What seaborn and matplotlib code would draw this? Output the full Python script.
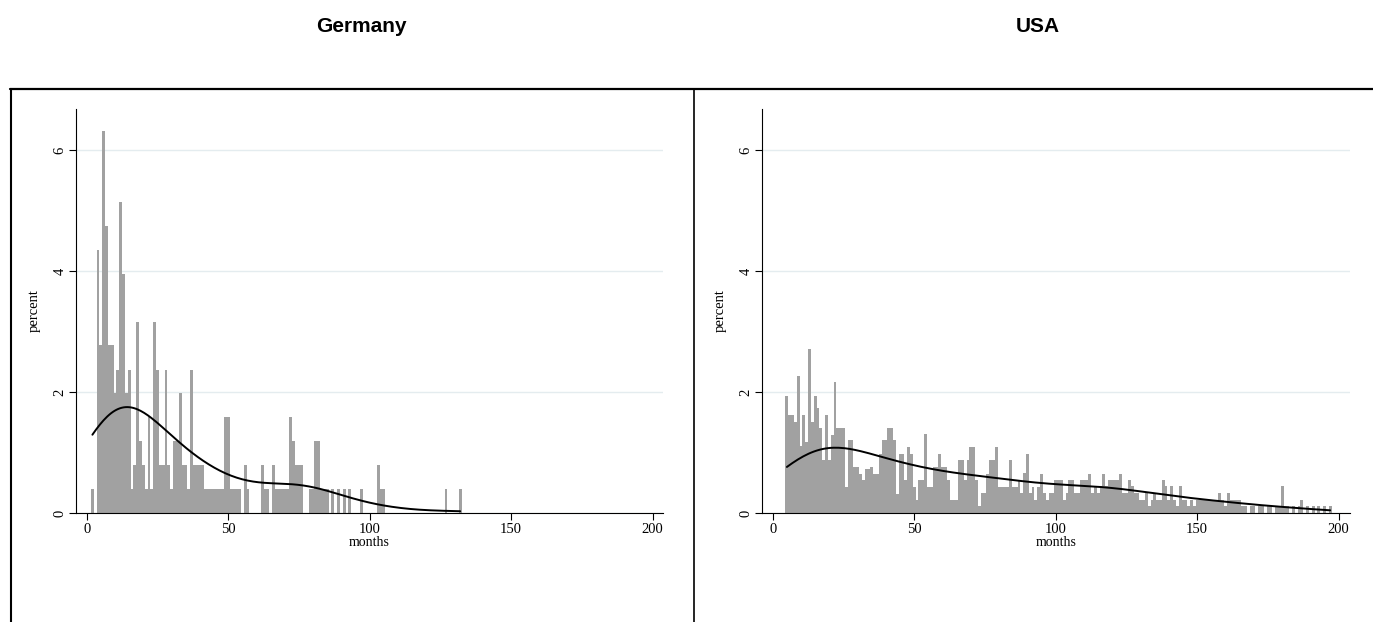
import numpy as np
import pandas as pd
import matplotlib
matplotlib.use("Agg")
import matplotlib.pyplot as plt
import seaborn as sns
from matplotlib.lines import Line2D

# ---------------- data ----------------
panel_titles = ["Germany", "USA"]
x_label = "months"
y_label = "percent"
x_ticks = [0, 50, 100, 150, 200]
y_ticks = [0, 2, 4, 6]

germany_months = [2, 4, 5, 6, 7, 8, 9, 10, 11, 12, 13, 14, 15, 16, 17, 18, 19, 20,
                  21, 22, 23, 24, 25, 26, 27, 28, 29, 30, 31, 32, 33, 34, 35, 36, 37,
                  38, 39, 40, 41, 42, 43, 44, 45, 46, 47, 48, 49, 50, 51, 52, 53, 54,
                  56, 57, 62, 63, 64, 66, 67, 68, 69, 70, 71, 72, 73, 74, 75, 76,
                  79, 80, 81, 82, 83, 84, 85, 87, 89, 91, 93, 97, 103, 104, 105,
                  127, 132]
germany_percent = [0.40, 4.35, 2.77, 6.32, 4.74, 2.77, 2.77, 1.98, 2.37, 5.14, 3.95,
                   1.98, 2.37, 0.40, 0.79, 3.16, 1.19, 0.79, 0.40, 1.58, 0.40, 3.16,
                   2.37, 0.79, 0.79, 2.37, 0.79, 0.40, 1.19, 1.19, 1.98, 0.79, 0.79,
                   0.40, 2.37, 0.79, 0.79, 0.79, 0.79, 0.40, 0.40, 0.40, 0.40, 0.40,
                   0.40, 0.40, 1.58, 1.58, 0.40, 0.40, 0.40, 0.40, 0.79, 0.40, 0.79,
                   0.40, 0.40, 0.79, 0.40, 0.40, 0.40, 0.40, 0.40, 1.58, 1.19, 0.79,
                   0.79, 0.79, 0.40, 0.40, 1.19, 1.19, 0.40, 0.40, 0.40, 0.40, 0.40,
                   0.40, 0.40, 0.40, 0.79, 0.40, 0.40, 0.40, 0.40]

usa_first_month = 5
usa_last_month = 197
usa_percent = [
    1.94, 1.62, 1.62, 1.50, 2.27, 1.10, 1.62, 1.18, 2.71, 1.50,   # 5-14
    1.94, 1.73, 1.40, 0.88, 1.62, 0.88, 1.29, 2.16, 1.40, 1.40,   # 15-24
    1.40, 0.43, 1.20, 1.20, 0.76, 0.76, 0.64, 0.55, 0.72, 0.72,   # 25-34
    0.76, 0.64, 0.64, 0.98, 1.20, 1.20, 1.40, 1.40, 1.20, 0.32,   # 35-44
    0.98, 0.98, 0.55, 1.09, 0.98, 0.43, 0.22, 0.55, 0.55, 1.31,   # 45-54
    0.43, 0.43, 0.76, 0.76, 0.98, 0.76, 0.76, 0.55, 0.22, 0.22,   # 55-64
    0.22, 0.87, 0.87, 0.55, 0.87, 1.09, 1.09, 0.55, 0.11, 0.33,   # 65-74
    0.33, 0.64, 0.87, 0.87, 1.09, 0.43, 0.43, 0.43, 0.43, 0.88,   # 75-84
    0.43, 0.43, 0.55, 0.33, 0.66, 0.98, 0.33, 0.43, 0.22, 0.43,   # 85-94
    0.65, 0.33, 0.22, 0.33, 0.33, 0.55, 0.55, 0.55, 0.22, 0.33,   # 95-104
    0.55, 0.55, 0.33, 0.33, 0.55, 0.55, 0.55, 0.65, 0.33, 0.44,   # 105-114
    0.33, 0.44, 0.65, 0.44, 0.55, 0.55, 0.55, 0.55, 0.65, 0.33,   # 115-124
    0.33, 0.55, 0.44, 0.33, 0.33, 0.22, 0.22, 0.33, 0.11, 0.22,   # 125-134
    0.33, 0.22, 0.22, 0.55, 0.44, 0.22, 0.44, 0.22, 0.11, 0.44,   # 135-144
    0.22, 0.22, 0.11, 0.22, 0.11, 0.22, 0.22, 0.22, 0.22, 0.22,   # 145-154
    0.22, 0.22, 0.22, 0.33, 0.22, 0.11, 0.33, 0.22, 0.22, 0.22,   # 155-164
    0.22, 0.11, 0.11, 0.00, 0.11, 0.11, 0.00, 0.11, 0.11, 0.00,   # 165-174
    0.11, 0.11, 0.00, 0.11, 0.11, 0.44, 0.11, 0.11, 0.00, 0.11,   # 175-184
    0.00, 0.11, 0.22, 0.00, 0.11, 0.00, 0.11, 0.00, 0.11, 0.00,   # 185-194
    0.11, 0.00, 0.11,                                             # 195-197
]
usa_months = list(range(usa_first_month, usa_last_month + 1))

# ---------------- styling ----------------
W, H = 1373, 622
bar_color = "#a1a1a1"
grid_color = "#e4ecef"

sns.set_style("white")
plt.rcParams["font.family"] = ["Liberation Serif", "DejaVu Serif"]
plt.rcParams["text.color"] = "black"
plt.rcParams["axes.labelcolor"] = "black"
plt.rcParams["xtick.color"] = "black"
plt.rcParams["ytick.color"] = "black"

fig = plt.figure(figsize=(W / 100, H / 100), dpi=100)

axes_px = [(76, 109, 663, 513), (762, 109, 1350, 513)]  # left, top, right, bottom
xlims = [(-3.8, 203.7), (-3.8, 204.0)]
title_x = [361, 1038]
bw_adjusts = [0.95, 0.8]

datasets = [
    pd.DataFrame({"months": germany_months, "percent": germany_percent}),
    pd.DataFrame({"months": usa_months, "percent": usa_percent}),
]

for i, df in enumerate(datasets):
    l, t, r, b = axes_px[i]
    ax = fig.add_axes([l / W, (H - b) / H, (r - l) / W, (b - t) / H])
    df = df[df["percent"] > 0]
    sns.histplot(data=df, x="months", weights="percent", discrete=True,
                 stat="count", kde=True,
                 kde_kws={"bw_adjust": bw_adjusts[i], "cut": 0},
                 color=bar_color, alpha=1, edgecolor="none", linewidth=0,
                 ax=ax)
    if ax.lines:
        ax.lines[-1].set_color("black")
        ax.lines[-1].set_linewidth(1.4)
        ax.lines[-1].set_zorder(5)

    ax.set_xlim(*xlims[i])
    ax.set_ylim(0, 6.68)
    ax.set_xticks(x_ticks)
    ax.set_yticks(y_ticks)
    ax.yaxis.grid(True, color=grid_color, linewidth=1.0)
    ax.xaxis.grid(False)
    ax.set_axisbelow(True)
    sns.despine(ax=ax)
    for s in ("left", "bottom"):
        ax.spines[s].set_color("black")
        ax.spines[s].set_linewidth(0.8)
    ax.tick_params(axis="both", which="major", bottom=True, left=True,
                   direction="out", length=5, width=0.8, color="black",
                   labelcolor="black", labelsize=10.5, pad=2)
    plt.setp(ax.get_yticklabels(), rotation=90, va="center")
    ax.set_xlabel(x_label, fontsize=10, labelpad=0, color="black")
    ax.set_ylabel(y_label, fontsize=10.5, labelpad=9, color="black")

    fig.text(title_x[i] / W, 1 - 27 / H, panel_titles[i], ha="center", va="center",
             fontsize=15, fontweight="bold", color="black",
             family=["Liberation Sans", "DejaVu Sans"])

# panel frames
frame_y = 1 - 88.5 / H
fig.add_artist(Line2D([10 / W, 1.0], [frame_y, frame_y], transform=fig.transFigure,
                      color="black", linewidth=1.6))
fig.add_artist(Line2D([10.5 / W, 10.5 / W], [0, frame_y], transform=fig.transFigure,
                      color="black", linewidth=1.5))
fig.add_artist(Line2D([693.5 / W, 693.5 / W], [0, frame_y], transform=fig.transFigure,
                      color="black", linewidth=1.2))

fig.savefig("out.png", dpi=100)
